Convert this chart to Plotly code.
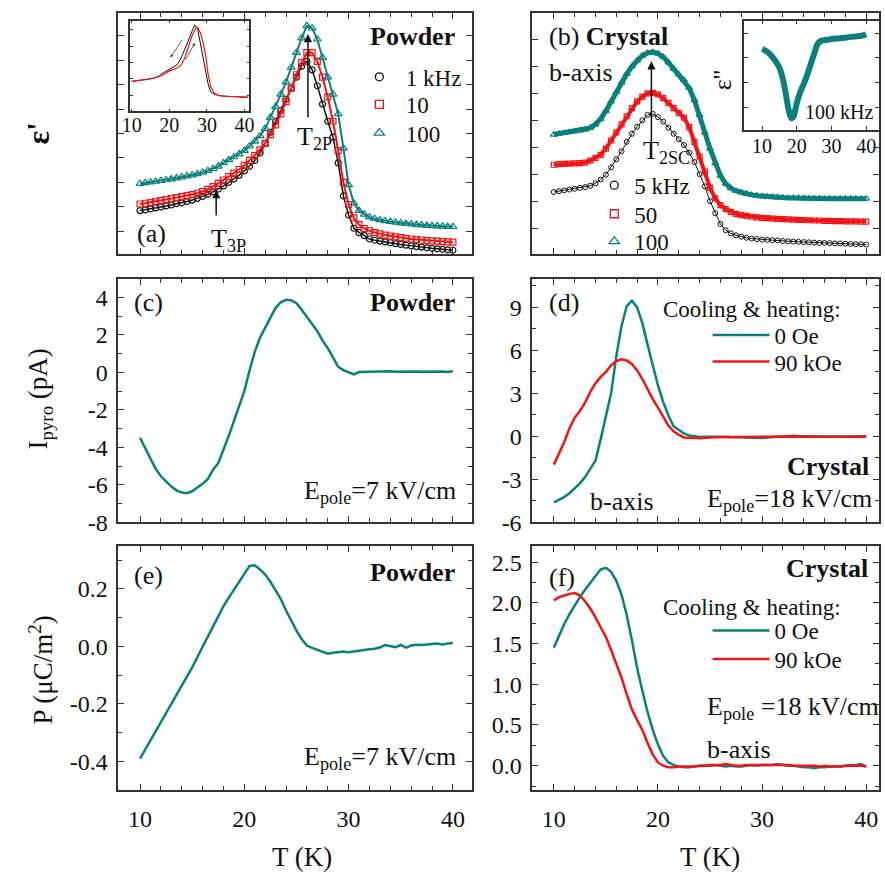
import plotly.graph_objects as go

# ---------------- data ----------------
T = [10 + 0.5 * i for i in range(61)]

# (a) powder eps' (arb. units)
a_1k = [1.85, 1.88, 1.92, 1.96, 2.00, 2.04, 2.08, 2.13, 2.17, 2.22,
        2.28, 2.35, 2.43, 2.52, 2.62, 2.73, 2.86, 3.00, 3.14, 3.30,
        3.47, 3.66, 3.90, 4.20, 4.60, 5.05, 5.50, 5.95, 6.40, 6.85,
        7.30, 7.75, 7.95, 7.60, 6.95, 6.20, 5.50, 4.85, 3.80, 2.45,
        1.67, 1.13, 0.95, 0.83, 0.69, 0.64, 0.60, 0.57, 0.54, 0.50,
        0.47, 0.44, 0.41, 0.38, 0.36, 0.33, 0.31, 0.29, 0.27, 0.25, 0.23]
a_10k = [2.12, 2.15, 2.18, 2.22, 2.26, 2.30, 2.34, 2.38, 2.42, 2.46,
         2.50, 2.56, 2.63, 2.72, 2.83, 2.96, 3.10, 3.24, 3.38, 3.53,
         3.70, 3.90, 4.10, 4.33, 4.60, 4.95, 5.35, 5.80, 6.30, 6.85,
         7.40, 7.90, 8.30, 8.30, 7.95, 7.30, 6.50, 5.50, 4.30, 3.00,
         2.10, 1.55, 1.28, 1.12, 1.02, 0.95, 0.90, 0.85, 0.81, 0.78,
         0.75, 0.72, 0.69, 0.67, 0.65, 0.63, 0.61, 0.60, 0.58, 0.57, 0.56]
a_100k = [2.95, 2.98, 3.01, 3.04, 3.07, 3.10, 3.14, 3.18, 3.22, 3.26,
          3.30, 3.35, 3.41, 3.48, 3.56, 3.66, 3.80, 3.92, 4.04, 4.16,
          4.30, 4.48, 4.68, 4.90, 5.20, 5.65, 6.10, 6.60, 7.10, 7.70,
          8.30, 8.90, 9.40, 9.30, 8.85, 8.10, 7.30, 6.60, 5.80, 4.40,
          2.90, 2.15, 1.85, 1.70, 1.58, 1.52, 1.47, 1.43, 1.40, 1.37,
          1.34, 1.32, 1.30, 1.28, 1.26, 1.24, 1.23, 1.22, 1.21, 1.20, 1.19]

# (a) inset: cooling (black) / heating (red)
ins_a_T_cool = [10, 12, 14, 16, 17, 18, 19, 20, 21, 22, 23, 24, 25, 26, 26.8,
                27.5, 28.2, 29, 29.7, 30.3, 31, 32, 34, 36, 38, 40, 41]
ins_a_cool = [92, 94, 98, 102, 106, 115, 122, 130, 136, 142, 160, 185, 215, 245, 265,
              255, 215, 170, 120, 85, 60, 52, 47, 46, 45, 44, 43]
ins_a_T_heat = [10, 12, 14, 16, 17, 18, 19, 20, 21, 22, 23, 24, 25, 26, 27,
                27.5, 28.3, 29, 29.7, 30.3, 31, 32, 33, 35, 38, 41]
ins_a_heat = [92, 94, 98, 102, 105, 110, 117, 124, 128, 132, 140, 160, 195, 230, 255,
              258, 240, 210, 170, 115, 75, 55, 49, 46, 45, 43]

# (b) crystal eps' (arb. units)
b_5k = [2.34, 2.37, 2.40, 2.43, 2.46, 2.49, 2.52, 2.57, 2.66, 2.80,
        2.98, 3.25, 3.55, 3.85, 4.20, 4.50, 4.76, 5.00, 5.20, 5.24,
        5.12, 4.95, 4.72, 4.50, 4.30, 4.08, 3.80, 3.45, 3.00, 2.55,
        2.00, 1.55, 1.15, 0.92, 0.80, 0.73, 0.68, 0.64, 0.61, 0.59,
        0.57, 0.56, 0.55, 0.54, 0.52, 0.51, 0.50, 0.49, 0.48, 0.47,
        0.46, 0.45, 0.45, 0.44, 0.43, 0.43, 0.42, 0.41, 0.40, 0.40, 0.39]
b_50k = [3.35, 3.37, 3.38, 3.39, 3.40, 3.41, 3.43, 3.50, 3.60, 3.72,
         3.95, 4.25, 4.55, 4.85, 5.15, 5.45, 5.70, 5.88, 6.00, 6.02,
         5.96, 5.82, 5.65, 5.45, 5.27, 5.10, 4.75, 4.20, 3.65, 3.10,
         2.50, 2.10, 1.85, 1.70, 1.60, 1.53, 1.48, 1.45, 1.42, 1.40,
         1.38, 1.37, 1.35, 1.34, 1.33, 1.32, 1.31, 1.30, 1.30, 1.29,
         1.28, 1.28, 1.27, 1.27, 1.26, 1.26, 1.25, 1.25, 1.25, 1.24, 1.24]
b_100k = [4.47, 4.50, 4.53, 4.56, 4.59, 4.62, 4.65, 4.72, 4.85, 5.05,
          5.35, 5.70, 6.05, 6.40, 6.72, 7.00, 7.22, 7.40, 7.50, 7.53,
          7.48, 7.35, 7.15, 6.92, 6.70, 6.50, 6.20, 5.75, 5.20, 4.55,
          3.95, 3.40, 2.95, 2.65, 2.48, 2.38, 2.32, 2.27, 2.23, 2.20,
          2.18, 2.16, 2.15, 2.14, 2.13, 2.12, 2.12, 2.11, 2.11, 2.10,
          2.10, 2.10, 2.09, 2.09, 2.09, 2.09, 2.09, 2.09, 2.09, 2.09, 2.09]

# (b) inset eps'' at 100 kHz
ins_b_T = [10, 11, 12, 13, 14, 15, 16, 17, 17.5, 18, 18.5, 19, 19.5, 20, 21, 22, 23, 24,
           25, 26, 27, 28, 29, 30, 31, 32, 33, 34, 35, 36, 37, 38, 39, 40]
ins_b = [247, 242, 234, 222, 208, 190, 155, 100, 70, 48, 36, 40, 58, 82, 115, 140, 168, 200,
         232, 262, 272, 274, 275, 277, 278, 279, 280, 281, 283, 284, 285, 286, 288, 292]

# (c) powder pyro current (pA)
c_I = [-3.49, -4.05, -4.60, -5.15, -5.55, -5.85, -6.10, -6.30, -6.42, -6.45,
       -6.35, -6.15, -5.95, -5.70, -5.20, -4.85, -4.15, -3.40, -2.60, -1.80,
       -1.00, 0.10, 1.10, 1.85, 2.40, 2.90, 3.45, 3.75, 3.88, 3.85,
       3.70, 3.35, 2.95, 2.60, 2.20, 1.70, 1.30, 0.80, 0.30, 0.12,
       0.00, -0.10, 0.02, 0.03, 0.03, 0.04, 0.05, 0.03, 0.06, 0.04,
       0.05, 0.03, 0.04, 0.05, 0.03, 0.04, 0.02, 0.04, 0.05, 0.02, 0.06]

# (d) crystal pyro current (pA)
d_0Oe = [-4.62, -4.45, -4.25, -3.98, -3.65, -3.29, -2.85, -2.30, -1.70, -0.20,
         1.31, 3.00, 5.60, 7.70, 9.10, 9.47, 9.00, 7.90, 6.40, 4.90,
         3.55, 2.40, 1.45, 0.70, 0.45, 0.20, 0.05, -0.02, -0.05, -0.04,
         -0.03, -0.04, -0.02, -0.03, -0.05, -0.03, -0.06, -0.08, -0.10, -0.15,
         -0.12, -0.08, -0.05, -0.04, -0.02, 0.02, 0.04, 0.02, 0.01, -0.02,
         -0.04, -0.03, -0.05, -0.03, -0.02, -0.04, -0.03, -0.02, 0.00, 0.02, 0.01]
d_90kOe = [-1.98, -1.20, -0.40, 0.55, 1.30, 1.77, 2.35, 3.10, 3.70, 4.15,
           4.50, 4.95, 5.25, 5.38, 5.30, 5.05, 4.60, 4.00, 3.25, 2.60,
           2.00, 1.35, 0.75, 0.35, 0.10, -0.08, -0.12, -0.12, -0.13, -0.09,
           -0.08, -0.07, -0.06, -0.06, -0.05, -0.05, -0.04, -0.04, -0.03, -0.04,
           -0.03, -0.03, -0.02, -0.03, -0.02, -0.02, -0.03, -0.02, -0.03, -0.02,
           -0.02, -0.03, -0.03, -0.04, -0.04, -0.03, -0.03, -0.02, -0.02, -0.02, -0.03]

# (e) powder polarization (uC/m^2)
e_P = [-0.390, -0.358, -0.327, -0.295, -0.264, -0.232, -0.201, -0.170, -0.138, -0.107,
       -0.073, -0.037, -0.001, 0.035, 0.071, 0.107, 0.140, 0.169, 0.197, 0.225,
       0.255, 0.280, 0.282, 0.268, 0.250, 0.225, 0.195, 0.165, 0.125, 0.088,
       0.055, 0.025, 0.003, -0.005, -0.012, -0.020, -0.025, -0.022, -0.020, -0.018,
       -0.020, -0.017, -0.015, -0.012, -0.010, -0.008, -0.004, 0.005, 0.000, -0.003,
       0.005, -0.004, 0.003, 0.006, 0.005, 0.006, 0.008, 0.010, 0.007, 0.010, 0.013]

# (f) crystal polarization (uC/m^2)
f_0Oe = [1.45, 1.60, 1.74, 1.86, 1.97, 2.07, 2.16, 2.25, 2.33, 2.41,
         2.43, 2.38, 2.27, 2.10, 1.85, 1.54, 1.20, 0.92, 0.66, 0.44,
         0.26, 0.12, 0.04, 0.01, -0.01, -0.02, -0.02, -0.01, 0.00, 0.00,
         0.01, 0.01, 0.00, -0.01, 0.00, -0.01, -0.01, 0.00, 0.01, 0.00,
         0.01, 0.01, 0.01, 0.02, 0.01, 0.00, 0.00, -0.01, -0.02, -0.02,
         -0.03, -0.02, -0.02, -0.01, -0.01, -0.01, 0.00, 0.01, 0.01, 0.02, -0.01]
f_90kOe = [2.03, 2.07, 2.09, 2.11, 2.12, 2.09, 2.02, 1.93, 1.82, 1.70,
           1.58, 1.42, 1.25, 1.08, 0.88, 0.69, 0.56, 0.44, 0.28, 0.14,
           0.04, 0.00, -0.02, -0.02, -0.01, -0.01, -0.01, -0.01, 0.00, 0.00,
           0.00, 0.01, 0.01, 0.02, 0.01, 0.00, 0.00, 0.01, 0.01, 0.01,
           0.01, 0.01, 0.01, 0.01, 0.01, 0.01, 0.00, 0.00, 0.00, 0.00,
           0.00, -0.01, 0.00, -0.01, -0.01, -0.01, 0.00, 0.00, 0.00, 0.00, -0.01]

# tick labels
c_tickvals = [-8, -6, -4, -2, 0, 2, 4]
c_ticktext = ["-8", "-6", "-4", "-2", "0", "2", "4"]
d_tickvals = [-6, -3, 0, 3, 6, 9]
d_ticktext = ["-6", "-3", "0", "3", "6", "9"]
e_tickvals = [-0.4, -0.2, 0.0, 0.2]
e_ticktext = ["-0.4", "-0.2", "0.0", "0.2"]
f_tickvals = [0.0, 0.5, 1.0, 1.5, 2.0, 2.5]
f_ticktext = ["0.0", "0.5", "1.0", "1.5", "2.0", "2.5"]
x_tickvals = [10, 20, 30, 40]
x_ticktext = ["10", "20", "30", "40"]

# ---------------- styling ----------------
W, H = 885, 880
FONT = "Liberation Serif"
TEAL = "#0A807D"
RED = "#F21414"
BLACK = "#111111"
AX = "#333333"


def px(x):
    return x / W


def py(y):
    return 1 - y / H


def axis(domain, rng, showlabels=False, dtick=None, tick0=None, minor=None,
         tickvals=None, ticktext=None, fs=24, ticklen=6, anchor=None, standoff=4):
    d = dict(domain=domain, range=rng, showline=True, linecolor=AX, linewidth=1.5,
             mirror="ticks", ticks="inside", ticklen=ticklen, tickwidth=1.3, tickcolor=AX,
             showgrid=False, zeroline=False, showticklabels=showlabels,
             tickfont=dict(family=FONT, size=fs, color=BLACK), ticklabelstandoff=standoff)
    if dtick is not None:
        d["dtick"] = dtick
    if tick0 is not None:
        d["tick0"] = tick0
    if tickvals is not None:
        d["tickmode"] = "array"
        d["tickvals"] = tickvals
        d["ticktext"] = ticktext
    if minor is not None:
        d["minor"] = dict(ticks="inside", ticklen=4, tickwidth=1.1, tickcolor=AX, dtick=minor,
                          tick0=0, showgrid=False)
    if anchor:
        d["anchor"] = anchor
    return d


XL = [px(112), px(471)]
XR = [px(532), px(884)]
R1 = [py(258), py(13)]
R2 = [py(530), py(283)]
R3 = [py(802), py(554)]
XRANGE_L = [7.92, 41.84]
XRANGE_R = [7.92, 41.23]

fig = go.Figure()
legends = {}
LEGFONT = dict(family=FONT, size=23, color=BLACK)


def add_legend(key, x, y, itemwidth):
    legends[key] = dict(x=px(x), y=py(y), xanchor="left", yanchor="middle",
                        bgcolor="rgba(0,0,0,0)", borderwidth=0, itemwidth=itemwidth,
                        font=LEGFONT)


def leg_marker(name, symbol, color, size, key, xa, ya):
    fig.add_trace(go.Scatter(x=[None], y=[None], mode="markers", name=name, xaxis=xa, yaxis=ya,
                             marker=dict(symbol=symbol, color=color, size=size,
                                         line=dict(width=1.3)),
                             legend=key, showlegend=True))


# (a)
fig.add_trace(go.Scatter(x=T, y=a_1k, mode="lines+markers", xaxis="x", yaxis="y",
                         line=dict(color=BLACK, width=1.5),
                         marker=dict(symbol="circle-open", color=BLACK, size=6, line=dict(width=1.2)),
                         showlegend=False))
fig.add_trace(go.Scatter(x=T, y=a_10k, mode="lines+markers", xaxis="x", yaxis="y",
                         line=dict(color=RED, width=2),
                         marker=dict(symbol="square-open", color=RED, size=6, line=dict(width=1.2)),
                         showlegend=False))
fig.add_trace(go.Scatter(x=T, y=a_100k, mode="lines+markers", xaxis="x", yaxis="y",
                         line=dict(color=TEAL, width=2),
                         marker=dict(symbol="triangle-up-open", color=TEAL, size=7,
                                     line=dict(width=1.2)),
                         showlegend=False))
leg_marker("1 kHz", "circle-open", BLACK, 8, "legend", "x", "y")
leg_marker("10", "square-open", RED, 8, "legend2", "x", "y")
leg_marker("100", "triangle-up-open", TEAL, 9, "legend3", "x", "y")
add_legend("legend", 350, 78, 43)
add_legend("legend2", 350, 106, 43)
add_legend("legend3", 350, 135, 43)

# (a) inset
fig.add_trace(go.Scatter(x=ins_a_T_cool, y=ins_a_cool, mode="lines", xaxis="x7", yaxis="y7",
                         line=dict(color=BLACK, width=1), showlegend=False))
fig.add_trace(go.Scatter(x=ins_a_T_heat, y=ins_a_heat, mode="lines", xaxis="x7", yaxis="y7",
                         line=dict(color=RED, width=1.2), showlegend=False))

# (b)
fig.add_trace(go.Scatter(x=T, y=b_5k, mode="lines+markers", xaxis="x2", yaxis="y2",
                         line=dict(color=BLACK, width=1),
                         marker=dict(symbol="circle-open", color=BLACK, size=5, line=dict(width=1)),
                         showlegend=False))
fig.add_trace(go.Scatter(x=T, y=b_50k, mode="lines+markers", xaxis="x2", yaxis="y2",
                         line=dict(color=RED, width=4),
                         marker=dict(symbol="square-open", color=RED, size=5, line=dict(width=1.2)),
                         showlegend=False))
fig.add_trace(go.Scatter(x=T, y=b_100k, mode="lines+markers", xaxis="x2", yaxis="y2",
                         line=dict(color=TEAL, width=5),
                         marker=dict(symbol="triangle-up-open", color=TEAL, size=6,
                                     line=dict(width=1.2)),
                         showlegend=False))
leg_marker("5 kHz", "circle-open", BLACK, 8, "legend4", "x2", "y2")
leg_marker("50", "square-open", RED, 8, "legend5", "x2", "y2")
leg_marker("100", "triangle-up-open", TEAL, 9, "legend6", "x2", "y2")
add_legend("legend4", 595, 188, 30)
add_legend("legend5", 595, 217, 30)
add_legend("legend6", 595, 245, 30)

# (b) inset
fig.add_trace(go.Scatter(x=ins_b_T, y=ins_b, mode="lines", xaxis="x8", yaxis="y8",
                         line=dict(color=TEAL, width=6, shape="spline"), showlegend=False))

# (c)
fig.add_trace(go.Scatter(x=T, y=c_I, mode="lines", xaxis="x3", yaxis="y3",
                         line=dict(color=TEAL, width=2.5), showlegend=False))
# (d)
fig.add_trace(go.Scatter(x=T, y=d_0Oe, mode="lines", name="0 Oe", xaxis="x4", yaxis="y4",
                         line=dict(color=TEAL, width=2.5), legend="legend7"))
fig.add_trace(go.Scatter(x=T, y=d_90kOe, mode="lines", name="90 kOe", xaxis="x4", yaxis="y4",
                         line=dict(color=RED, width=2.5), legend="legend8"))
add_legend("legend7", 710, 340, 57)
add_legend("legend8", 710, 367, 57)
# (e)
fig.add_trace(go.Scatter(x=T, y=e_P, mode="lines", xaxis="x5", yaxis="y5",
                         line=dict(color=TEAL, width=2.5), showlegend=False))
# (f)
fig.add_trace(go.Scatter(x=T, y=f_0Oe, mode="lines", name="0 Oe", xaxis="x6", yaxis="y6",
                         line=dict(color=TEAL, width=2.5), legend="legend9"))
fig.add_trace(go.Scatter(x=T, y=f_90kOe, mode="lines", name="90 kOe", xaxis="x6", yaxis="y6",
                         line=dict(color=RED, width=2.5), legend="legend10"))
add_legend("legend9", 710, 640, 57)
add_legend("legend10", 710, 669, 57)

# ---------------- annotations ----------------
ann = []
DY = 4  # small vertical correction for text boxes


def txt(x, y, text, size=22, xanchor="center", yanchor="middle", angle=0):
    ann.append(dict(x=px(x), y=py(y + DY), xref="paper", yref="paper", text=text, showarrow=False,
                    xanchor=xanchor, yanchor=yanchor, textangle=angle,
                    font=dict(family=FONT, size=size, color=BLACK)))


def arrow(xref, yref, x, ytip, ytail):
    ann.append(dict(x=x, y=ytip, ax=x, ay=ytail, xref=xref, yref=yref, axref=xref, ayref=yref,
                    text="", showarrow=True, arrowhead=2, arrowsize=1.1, arrowwidth=1.5,
                    arrowcolor=BLACK))


# axis titles
txt(30, 131, "<b>ε'</b>", size=32, angle=-90)
txt(33, 401, "I<sub>pyro</sub> (pA)", size=27, angle=-90)
txt(33, 676, "P (μC/m<sup>2</sup>)", size=27, angle=-90)
txt(298, 866, "T (K)", size=27)
txt(712, 866, "T (K)", size=27)

# (a)
txt(456, 33, "<b>Powder</b>", size=26, xanchor="right")
txt(129, 233, "(a)", size=26, xanchor="left")
txt(224, 240, "T<sub>3P</sub>", size=26)
txt(311, 136, "T<sub>2P</sub>", size=26)
arrow("x", "y", 17.3, 2.69, 1.6)
arrow("x", "y", 26.1, 9.06, 5.6)
# inset arrows (a)
ann.append(dict(x=20.3, y=165, ax=23.8, ay=225, xref="x7", yref="y7", axref="x7", ayref="y7",
                text="", showarrow=True, arrowhead=2, arrowsize=0.8, arrowwidth=0.8,
                arrowcolor="#444444"))
ann.append(dict(x=26.8, y=210, ax=24.2, ay=155, xref="x7", yref="y7", axref="x7", ayref="y7",
                text="", showarrow=True, arrowhead=2, arrowsize=0.8, arrowwidth=0.8,
                arrowcolor="#444444"))

# (b)
txt(547, 33, "(b) <b>Crystal</b>", size=26, xanchor="left")
txt(547, 70, "b-axis", size=26, xanchor="left")
txt(668, 150, "T<sub>2SC</sub>", size=26)
arrow("x2", "y2", 19.37, 7.19, 4.09)
txt(725, 77, "ε''", size=26, angle=-90)
txt(843, 110, "100 kHz", size=20)

# (c)
txt(126, 303, "(c)", size=26, xanchor="left")
txt(456, 303, "<b>Powder</b>", size=26, xanchor="right")
txt(457, 495, "E<sub>pole</sub>=7 kV/cm", size=26, xanchor="right")

# (d)
txt(547, 303, "(d)", size=26, xanchor="left")
txt(663, 310, "Cooling &amp; heating:", size=23, xanchor="left")
txt(876, 470, "<b>Crystal</b>", size=26, xanchor="right")
txt(589, 505, "b-axis", size=26, xanchor="left")
txt(879, 503, "E<sub>pole</sub>=18 kV/cm", size=26, xanchor="right")

# (e)
txt(126, 580, "(e)", size=26, xanchor="left")
txt(456, 577, "<b>Powder</b>", size=26, xanchor="right")
txt(457, 765, "E<sub>pole</sub>=7 kV/cm", size=26, xanchor="right")

# (f)
txt(547, 582, "(f)", size=26, xanchor="left")
txt(875, 573, "<b>Crystal</b>", size=26, xanchor="right")
txt(663, 613, "Cooling &amp; heating:", size=23, xanchor="left")
txt(707, 715, "E<sub>pole</sub> =18 kV/cm", size=26, xanchor="left")
txt(707, 757, "b-axis", size=26, xanchor="left")

fig.update_layout(
    width=W, height=H, margin=dict(l=0, r=0, t=0, b=0),
    paper_bgcolor="white", plot_bgcolor="white",
    font=dict(family=FONT, size=22, color=BLACK),
    showlegend=True,
    xaxis=axis(XL, XRANGE_L, dtick=10, tick0=0, minor=2, anchor="y"),
    yaxis=axis(R1, [0.07, 9.93], dtick=1, tick0=0, anchor="x"),
    xaxis2=axis(XR, XRANGE_R, dtick=10, tick0=0, minor=2, anchor="y2"),
    yaxis2=axis(R1, [0.03, 8.99], dtick=1, tick0=0, anchor="x2"),
    xaxis3=axis(XL, XRANGE_L, dtick=10, tick0=0, minor=2, anchor="y3"),
    yaxis3=axis(R2, [-8, 5], tickvals=c_tickvals, ticktext=c_ticktext, minor=1,
                showlabels=True, anchor="x3"),
    xaxis4=axis(XR, XRANGE_R, dtick=10, tick0=0, minor=2, anchor="y4"),
    yaxis4=axis(R2, [-6, 11], tickvals=d_tickvals, ticktext=d_ticktext, minor=1.5,
                showlabels=True, anchor="x4"),
    xaxis5=axis(XL, XRANGE_L, tickvals=x_tickvals, ticktext=x_ticktext, minor=2,
                showlabels=True, anchor="y5", standoff=6),
    yaxis5=axis(R3, [-0.5, 0.35], tickvals=e_tickvals, ticktext=e_ticktext, minor=0.1,
                showlabels=True, anchor="x5"),
    xaxis6=axis(XR, XRANGE_R, tickvals=x_tickvals, ticktext=x_ticktext, minor=2,
                showlabels=True, anchor="y6", standoff=6),
    yaxis6=axis(R3, [-0.3, 2.7], tickvals=f_tickvals, ticktext=f_ticktext, minor=0.25,
                showlabels=True, anchor="x6"),
    xaxis7=axis([px(124), px(245)], [9.6, 41.3], tickvals=x_tickvals, ticktext=x_ticktext,
                showlabels=True, fs=20, ticklen=3, anchor="y7", standoff=-5),
    yaxis7=axis([py(113), py(21)], [0, 278], dtick=50, showlabels=False, ticklen=3,
                anchor="x7"),
    xaxis8=axis([px(747), px(884)], [4.8, 43.7], tickvals=x_tickvals, ticktext=x_ticktext,
                showlabels=True, fs=20, ticklen=4, anchor="y8", standoff=-3),
    yaxis8=axis([py(132), py(21)], [0, 333], tickvals=[70, 145, 220, 295],
                ticktext=["", "", "", ""], showlabels=False, ticklen=4, anchor="x8"),
    annotations=ann,
    **legends,
)

fig.write_html("out.html")
